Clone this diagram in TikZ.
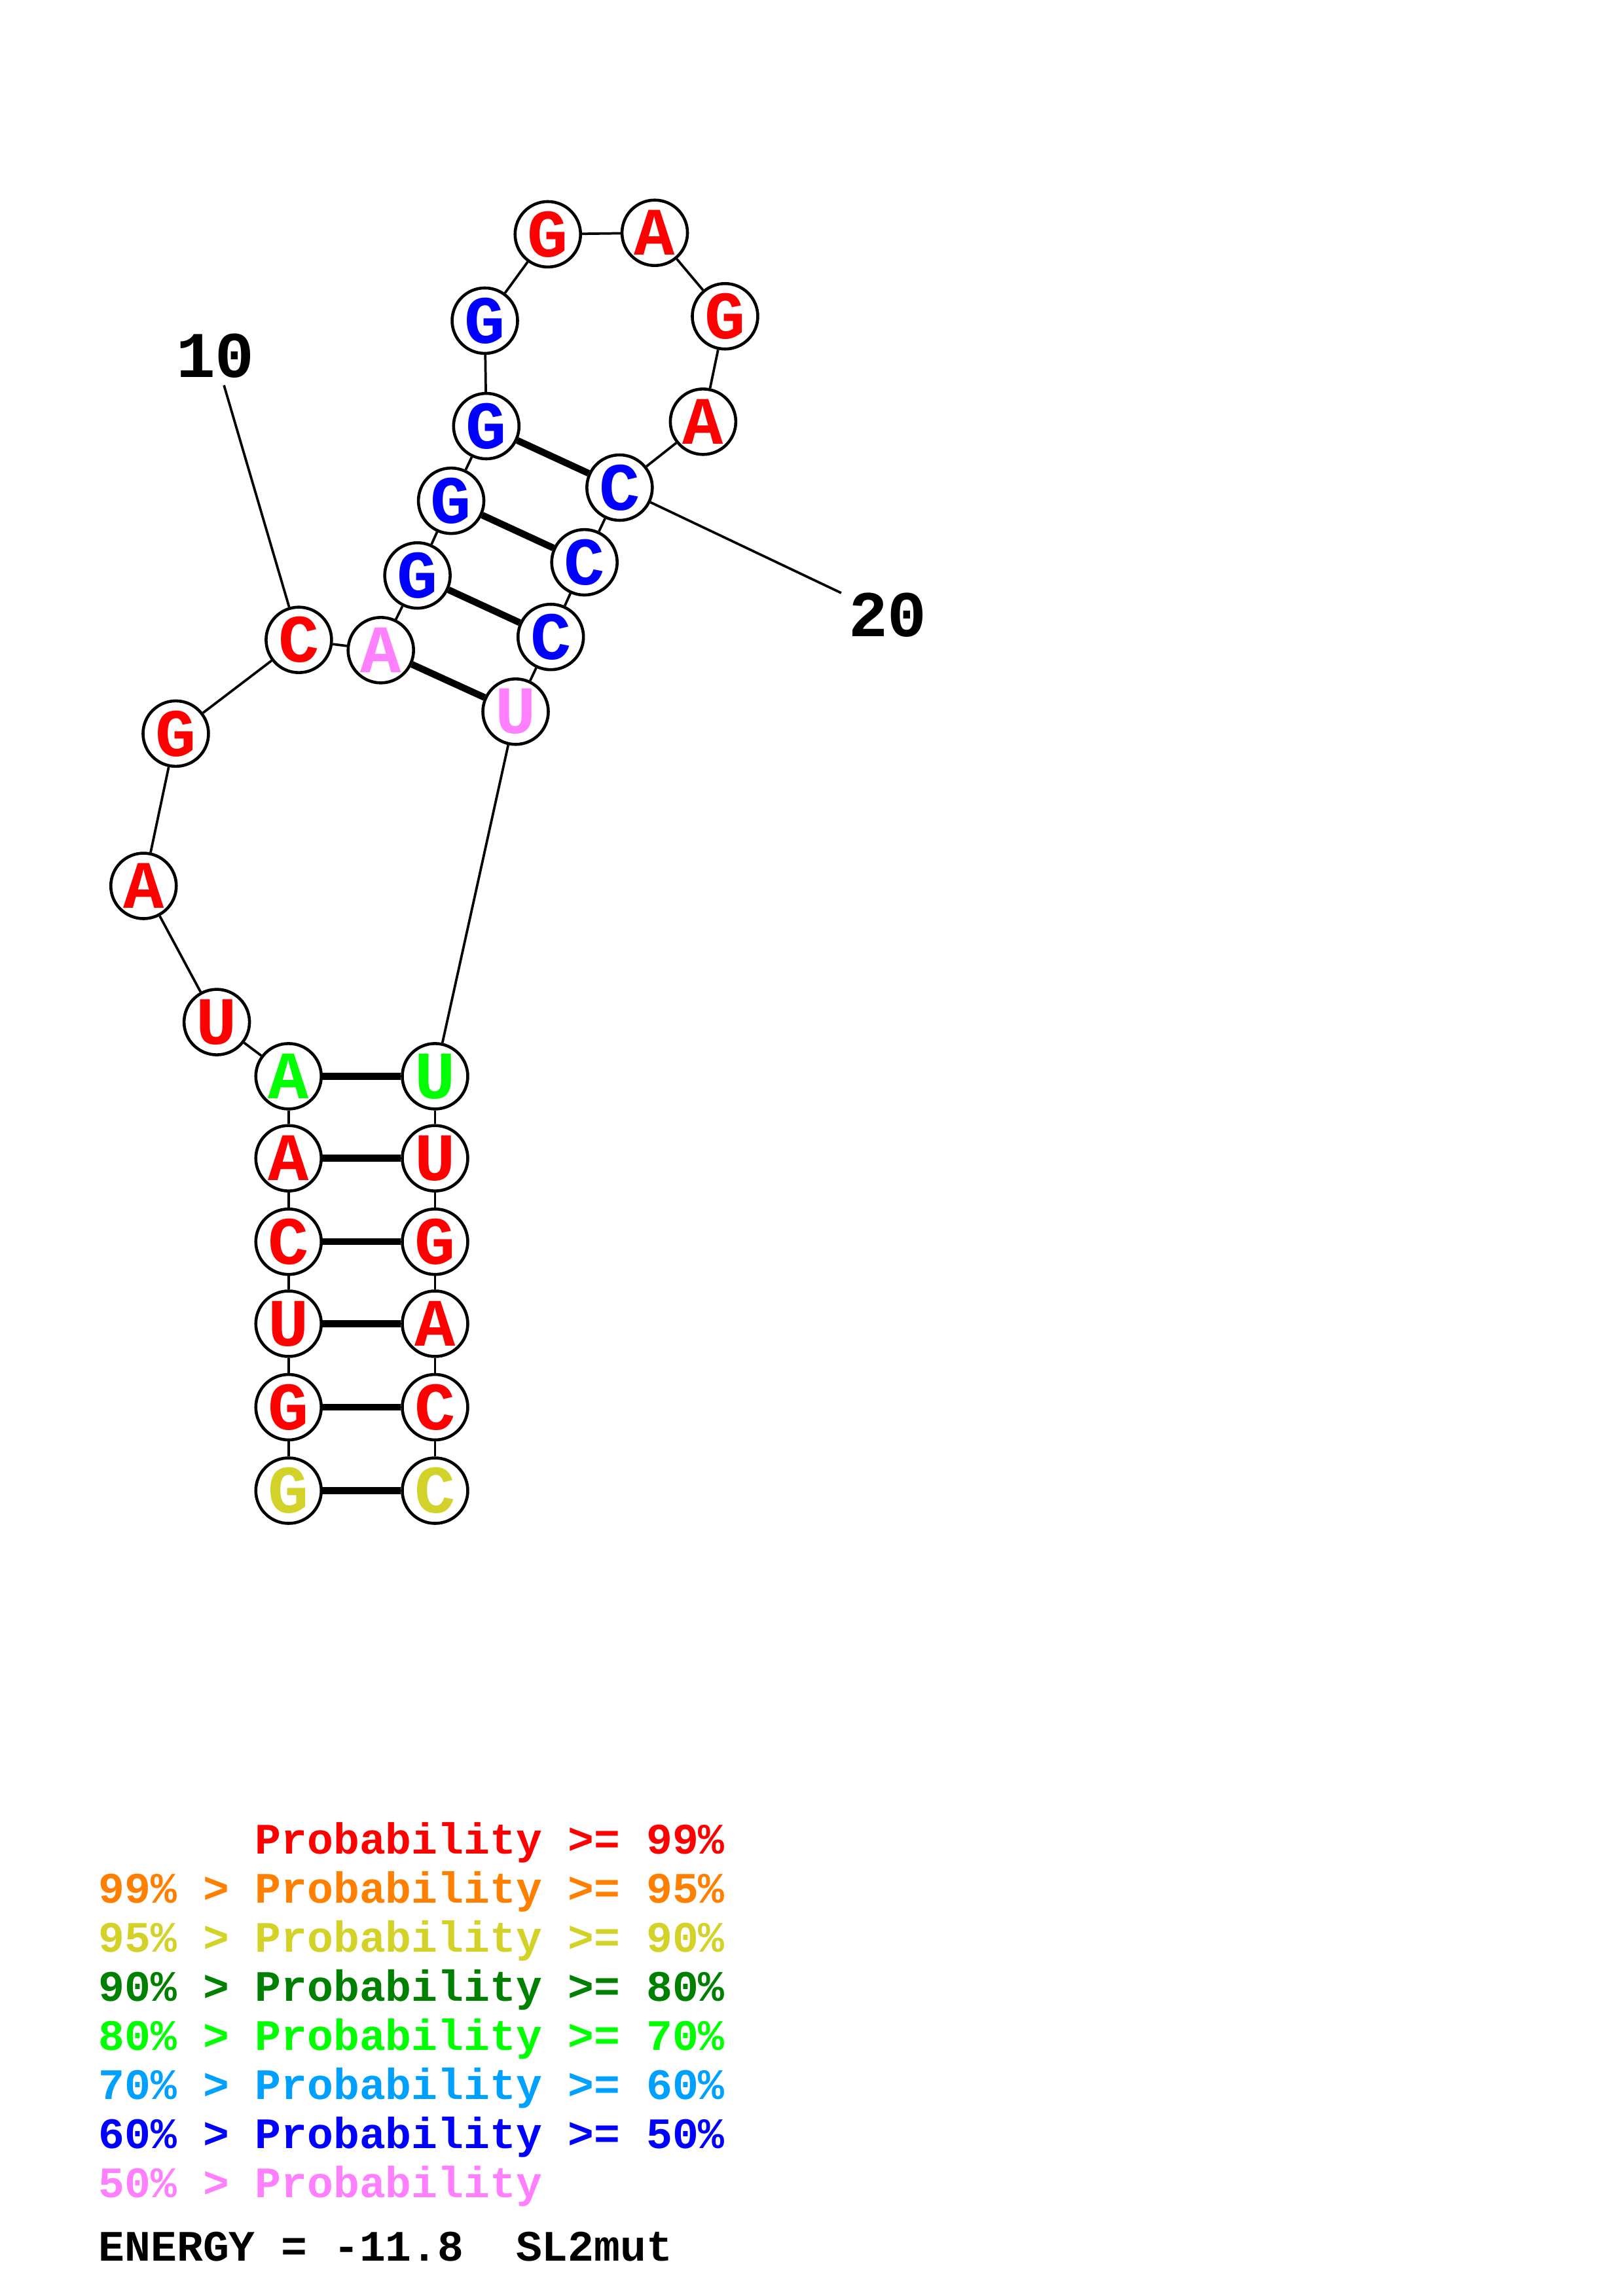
\documentclass[tikz,border=0pt]{standalone}
\usepackage{fontspec}
\setmonofont{Liberation Mono}
\definecolor{pr99}{RGB}{255,0,0}
\definecolor{pr95}{RGB}{255,128,0}
\definecolor{pr90}{RGB}{210,210,40}
\definecolor{pr80}{RGB}{0,128,0}
\definecolor{pr70}{RGB}{0,255,0}
\definecolor{pr60}{RGB}{0,160,255}
\definecolor{pr50}{RGB}{0,0,255}
\definecolor{prlow}{RGB}{255,128,255}

\begin{document}
\begin{tikzpicture}[x=0.018953cm,y=-0.018953cm,
        nt/.style={circle,draw,fill=white,line width=1.1pt,minimum size=0.847cm,
                   inner sep=0pt,font=\ttfamily\bfseries\fontsize{25}{25}\selectfont},
        bb/.style={line width=0.9pt},
        bp/.style={line width=2.5pt},
        numlab/.style={inner sep=2.5pt,font=\ttfamily\bfseries\fontsize{24}{24}\selectfont},
        legend/.style={anchor=base west,inner sep=0pt,
                       font=\ttfamily\bfseries\fontsize{16}{16}\selectfont}]

        \useasboundingbox (0,0) rectangle (1108,1568);

        % 5' side of the closing stem
        \node[nt,text=pr90] (n1) at (197,1018) {G};
        \node[nt,text=pr99] (n2) at (197,961) {G};
        \node[nt,text=pr99] (n3) at (197,904) {U};
        \node[nt,text=pr99] (n4) at (197,848) {C};
        \node[nt,text=pr99] (n5) at (197,791) {A};
        \node[nt,text=pr70] (n6) at (197,735) {A};
        % interior loop, left
        \node[nt,text=pr99] (n7) at (148,698) {U};
        \node[nt,text=pr99] (n8) at (98,605) {A};
        \node[nt,text=pr99] (n9) at (120,501) {G};
        \node[nt,text=pr99] (n10) at (204,437) {C};
        % upper stem and hairpin
        \node[nt,text=prlow] (n11) at (260,444) {A};
        \node[nt,text=pr50] (n12) at (285,393) {G};
        \node[nt,text=pr50] (n13) at (308,342) {G};
        \node[nt,text=pr50] (n14) at (332,291) {G};
        \node[nt,text=pr50] (n15) at (331,219) {G};
        \node[nt,text=pr99] (n16) at (374,160) {G};
        \node[nt,text=pr99] (n17) at (447,159) {A};
        \node[nt,text=pr99] (n18) at (495,216) {G};
        \node[nt,text=pr99] (n19) at (480,288) {A};
        \node[nt,text=pr50] (n20) at (423,333) {C};
        \node[nt,text=pr50] (n21) at (399,384) {C};
        \node[nt,text=pr50] (n22) at (376,435) {C};
        \node[nt,text=prlow] (n23) at (352,486) {U};
        % 3' side of the closing stem
        \node[nt,text=pr70] (n24) at (297,735) {U};
        \node[nt,text=pr99] (n25) at (297,791) {U};
        \node[nt,text=pr99] (n26) at (297,848) {G};
        \node[nt,text=pr99] (n27) at (297,904) {A};
        \node[nt,text=pr99] (n28) at (297,961) {C};
        \node[nt,text=pr90] (n29) at (297,1018) {C};

        % position labels
        \node[numlab] (l10) at (147,243) {10};
        \node[numlab] (l20) at (606,420) {20};

        \path[bb] (n1) edge (n2)
                (n2) edge (n3)
                (n3) edge (n4)
                (n4) edge (n5)
                (n5) edge (n6)
                (n6) edge (n7)
                (n7) edge (n8)
                (n8) edge (n9)
                (n9) edge (n10)
                (n10) edge (n11)
                (n11) edge (n12)
                (n12) edge (n13)
                (n13) edge (n14)
                (n14) edge (n15)
                (n15) edge (n16)
                (n16) edge (n17)
                (n17) edge (n18)
                (n18) edge (n19)
                (n19) edge (n20)
                (n20) edge (n21)
                (n21) edge (n22)
                (n22) edge (n23)
                (n23) edge (n24)
                (n24) edge (n25)
                (n25) edge (n26)
                (n26) edge (n27)
                (n27) edge (n28)
                (n28) edge (n29)
                (l10) edge (n10)
                (l20) edge (n20);

        \path[bp] (n1) edge (n29)
                (n2) edge (n28)
                (n3) edge (n27)
                (n4) edge (n26)
                (n5) edge (n25)
                (n6) edge (n24)
                (n11) edge (n23)
                (n12) edge (n22)
                (n13) edge (n21)
                (n14) edge (n20);

        % colour key
        \node[legend,text=pr99] (k99) at (67,1266) {\hphantom{99\% > }Probability >= 99\%};
        \node[legend,text=pr95] (k95) at (67,1299.5) {99\% > Probability >= 95\%};
        \node[legend,text=pr90] (k90) at (67,1333) {95\% > Probability >= 90\%};
        \node[legend,text=pr80] (k80) at (67,1366.5) {90\% > Probability >= 80\%};
        \node[legend,text=pr70] (k70) at (67,1400) {80\% > Probability >= 70\%};
        \node[legend,text=pr60] (k60) at (67,1433.5) {70\% > Probability >= 60\%};
        \node[legend,text=pr50] (k50) at (67,1467) {60\% > Probability >= 50\%};
        \node[legend,text=prlow] (klow) at (67,1500.5) {50\% > Probability};
        \node[legend] (energy) at (67,1544) {ENERGY = -11.8~~SL2mut};
\end{tikzpicture}
\end{document}
